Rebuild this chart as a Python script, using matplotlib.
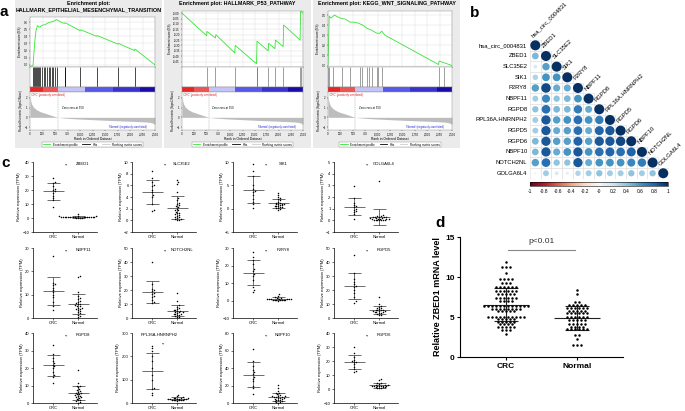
import matplotlib
matplotlib.use("Agg")
import matplotlib.pyplot as plt
import numpy as np
from matplotlib.patches import Rectangle, Circle
from matplotlib.lines import Line2D
from matplotlib.colors import LinearSegmentedColormap, Normalize
import matplotlib.colorbar as mcolorbar

plt.rcParams['font.family'] = ['Liberation Sans', 'DejaVu Sans']

W, H = 685, 411

# ---------------- panel a : GSEA ----------------
emt_rank = [0, 60, 80, 100, 120, 150, 180, 200, 230, 270, 300, 340, 370, 420, 470, 500, 530, 560,
            650, 690, 700, 1000, 1020, 1330, 1345, 1760, 1770, 2090, 2100, 2500]
emt_es = [-0.02, -0.01, 0.18, 0.36, 0.48, 0.55, 0.53, 0.53, 0.55, 0.56, 0.56, 0.58, 0.59, 0.60, 0.61,
          0.62, 0.635, 0.62, 0.59, 0.58, 0.59, 0.48, 0.49, 0.40, 0.41, 0.29, 0.30, 0.20, 0.22, 0.0]
emt_hits = [65, 80, 100, 120, 135, 150, 170, 200, 235, 270, 300, 335, 370, 400, 430, 465, 500, 530,
            690, 700, 1000, 1330, 1760, 2090]

p53_rank = [0, 510, 515, 690, 700, 1090, 1100, 1540, 1550, 1780, 1790, 1920, 1930, 2090, 2100,
            2440, 2450, 2500]
p53_es = [0.0, -0.21, -0.17, -0.23, -0.20, -0.37, -0.30, -0.47, -0.26, -0.35, -0.28, -0.33, -0.25,
          -0.31, -0.11, -0.25, 0.02, 0.0]
p53_hits = [510, 690, 1095, 1545, 1550, 1785, 1925, 2095, 2445, 2450]

wnt_rank = [0, 25, 60, 110, 128, 200, 276, 350, 444, 520, 613, 700, 781, 880, 983, 1040, 1084,
            1151, 2229, 2240, 2330, 2500]
wnt_es = [0.0, 0.49, 0.47, 0.49, 0.50, 0.48, 0.465, 0.46, 0.43, 0.43, 0.42, 0.40, 0.37, 0.35, 0.32,
          0.32, 0.34, 0.30, 0.01, 0.045, 0.03, 0.0]
wnt_hits = [5, 27, 108, 276, 444, 646, 680, 781, 829, 882, 983, 1017, 1084, 2229, 2330]

rank_pos = [0, 10, 30, 60, 100, 150, 220, 300, 400, 550, 700, 900, 1100, 1300, 1500, 1700, 1900,
            2100, 2300, 2400, 2460, 2500]
rank_val = [2.3, 1.8, 1.4, 1.1, 0.9, 0.72, 0.55, 0.42, 0.25, 0.0, -0.08, -0.15, -0.2, -0.25, -0.3,
            -0.34, -0.38, -0.42, -0.47, -0.52, -0.6, -0.75]
band_edges = [0, 250, 550, 1100, 1650, 2200, 2500]
band_vals = [0.95, 0.7, -0.2, -0.55, -0.75, -1.0]

gsea_titles = ["Enrichment plot:\nHALLMARK_EPITHELIAL_MESENCHYMAL_TRANSITION",
               "Enrichment plot: HALLMARK_P53_PATHWAY",
               "Enrichment plot: KEGG_WNT_SIGNALING_PATHWAY"]

# ---------------- panel b : correlation ----------------
corr_names = ['hsa_circ_0004831', 'ZBED1', 'SLC35E2', 'SIK1', 'P2RY8', 'NBPF11', 'RGPD8',
              'RPL36A.HNRNPH2', 'RGPD5', 'RGPD6', 'NBPF10', 'NOTCH2NL', 'GOLGA6L4']
corr_rows = [
    [1],
    [0.45, 1],
    [0.15, 0.55, 1],
    [0.3, 0.6, 0.6, 1],
    [0.55, 0.9, 0.5, 0.5, 1],
    [0.35, 0.65, 0.4, 0.45, 0.6, 1],
    [0.4, 0.75, 0.45, 0.45, 0.7, 0.5, 1],
    [0.35, 0.85, 0.55, 0.6, 0.75, 0.6, 0.7, 1],
    [0.35, 0.85, 0.5, 0.55, 0.75, 0.5, 0.8, 0.85, 1],
    [0.45, 0.85, 0.55, 0.55, 0.8, 0.55, 0.85, 0.85, 0.9, 1],
    [0.45, 0.85, 0.5, 0.6, 0.85, 0.6, 0.75, 0.8, 0.75, 0.8, 1],
    [0.55, 0.75, 0.4, 0.4, 0.85, 0.5, 0.6, 0.6, 0.6, 0.65, 0.7, 1],
    [0.05, 0.35, 0.15, 0.1, 0.3, 0.35, 0.4, 0.35, 0.35, 0.4, 0.35, 0.4, 1],
]

# ---------------- panel c : expression ----------------
genes = ['ZBED1', 'SLC35E2', 'SIK1', 'GOLGA6L4', 'NBPF11', 'NOTCH2NL', 'P2RY8', 'RGPD5',
         'RGPD8', 'RPL36A-HNRNPH2', 'NBPF10', 'RGPD6']
crc_vals = [
    [28.5, 26, 25, 23, 21, 20, 19, 18, 16, 14, 12.5, 7.5],
    [8.5, 7.2, 6.5, 6.0, 5.8, 5.2, 4.8, 4.3, 4.0, 2.8, 1.8, 1.6],
    [9.5, 8.0, 7.0, 5.0, 4.2, 3.8, 3.5, 3.0, 2.0, 1.5, 1.0, 0.2],
    [2.9, 1.9, 1.5, 1.3, 1.2, 1.1, 1.0, 0.9, 0.8, 0.7, 0.5, 0.1],
    [26.5, 15, 14.5, 14, 13, 12, 11, 10, 9, 7, 5, 3.5],
    [40, 24, 21, 20, 19, 18, 17, 16, 15, 13, 11.5, 11],
    [27.7, 25, 23, 21, 18, 17, 15, 14, 12, 8, 6, 5],
    [45, 32, 28, 26, 24, 23, 22, 20, 18, 15, 12, 11],
    [33, 28, 26, 24, 23, 22, 21, 20, 18, 16, 15, 11.5],
    [245, 235, 225, 200, 180, 150, 120, 100, 65, 60, 45, 35],
    [62, 48, 42, 38, 35, 33, 30, 28, 25, 20, 17, 10],
    [30, 25.5, 23, 21, 20, 19.5, 19, 18, 16, 14, 13, 12],
]
normal_vals = [
    [3.0, 1.6, 1.3, 1.1, 1.0, 0.9, 0.9, 0.8, 0.8, 0.7, 0.6, 0.6, 0.5, 0.5, 0.4, 0.4, 0.3, 0.3, 0.2,
     0.2, 1.0, 1.2, 0.7, 0.5],
    [6.9, 6.5, 6.2, 4.8, 3.8, 3.5, 3.0, 2.8, 2.6, 2.3, 2.0, 1.8, 1.7, 1.5, 1.3, 1.2, 1.0, 0.9, 0.8,
     0.6, 0.5, 0.4, 0.3, 0.2, 0.1, 0.0, 2.5],
    [3.4, 3.0, 2.6, 2.3, 2.0, 1.8, 1.5, 1.3, 1.2, 1.0, 0.9, 0.8, 0.7, 0.6, 0.5, 0.4, 0.3, 0.2, 0.1,
     0.0, -0.2, 1.1, 0.6, 0.9],
    [3.4, 0.45, 0.4, 0.35, 0.3, 0.3, 0.25, 0.2, 0.2, 0.15, 0.1, 0.1, 0.05, 0.05, 0.0, 0.0, 0.0, 0.1,
     0.2, 0.3, 0.05, 0.0, 0.15, 0.25],
    [17.8, 17.5, 11, 9.5, 8.5, 8, 7.5, 7, 6.5, 6, 5.5, 5, 4.5, 4, 3.5, 3, 2.5, 2, 1.5, 1, 0.5, 4.2,
     3.8, 5.2, 6.2],
    [18, 12, 9, 8, 7, 6.5, 6, 5.5, 5, 4.5, 4, 3.5, 3, 2.5, 2, 1.5, 1, 0.5, 4, 3.2, 5.2, 2.8],
    [3.5, 2.5, 2.0, 1.5, 1.2, 1.0, 0.8, 0.6, 0.5, 0.4, 0.3, 0.2, 0.1, 0.0, 0.5, 1.0, 0.8, 0.3, 0.6,
     0.9],
    [15, 10, 8.5, 8, 7.5, 7, 6.5, 6, 5.5, 5, 4.8, 4.5, 4, 3.5, 3, 2.5, 2, 6, 5, 4.2, 3.8, 5.5],
    [19, 11.5, 10, 9.5, 9, 8, 7.5, 7, 6.5, 6, 5.5, 5, 4.5, 4, 3.5, 3, 2.5, 2, 1.5, 1, 0.5, 0.2, 4.2,
     5.2, 3.2],
    [35, 28, 25, 22, 20, 19, 18, 17, 16, 15, 14, 13, 12, 11, 10, 20, 18, 16, 22, 15],
    [21, 17, 14, 12, 11, 10, 9, 8, 7.5, 7, 6.5, 6, 5.5, 5, 4.5, 4, 3.5, 3, 2.5, 2, 1.5, 1, 0.5, 8,
     6, 7],
    [7.5, 6.5, 4.5, 4, 3.5, 3, 2.8, 2.5, 2.2, 2, 1.8, 1.5, 1.2, 1, 0.8, 0.5, 2.2, 1.8, 1.5, 2.5, 3],
]
ylims = [(-10, 40), (-2, 10), (-5, 10), (-1, 5), (0, 30), (0, 50), (-10, 30), (0, 50), (0, 40),
         (0, 300), (0, 80), (-10, 40)]
ysteps = [10, 2, 5, 1, 10, 10, 10, 10, 10, 100, 20, 10]
groups = ['CRC', 'Normal']

# ---------------- panel d : ZBED1 qPCR (one entry per dot, read row by row) ----------------
d_crc = [11.9,
         11.2, 11.2, 11.2,
         10.5,
         9.7, 9.7, 9.7, 9.7,
         9.2, 9.2, 9.2,
         8.8, 8.8, 8.8, 8.8, 8.8, 8.8,
         8.3, 8.3, 8.3, 8.3, 8.3, 8.3,
         7.9, 7.9, 7.9, 7.9, 7.9,
         7.35, 7.35, 7.35, 7.35, 7.35, 7.35,
         7.0, 7.0, 7.0, 7.0,
         6.4, 6.4, 6.4, 6.4, 6.4, 6.4, 6.4, 6.4, 6.4, 6.4, 6.4, 6.4,
         6.05, 6.05, 6.05, 6.05, 6.05, 6.05, 6.05, 6.05,
         5.7, 5.7, 5.7, 5.7, 5.7,
         5.05, 5.05, 5.05, 5.05, 5.05, 5.05, 5.05, 5.05, 5.05, 5.05,
         4.7, 4.7, 4.7, 4.7, 4.7,
         4.4, 4.4, 4.4, 4.4, 4.4,
         4.1, 4.1, 4.1, 4.1,
         3.8, 3.8, 3.8, 3.8, 3.8,
         3.4, 3.4, 3.4,
         2.9]
d_nor = [8.4,
         7.9,
         6.9, 6.9,
         6.5, 6.5, 6.5, 6.5, 6.5,
         6.1, 6.1, 6.1, 6.1, 6.1, 6.1,
         5.8, 5.8, 5.8, 5.8, 5.8,
         5.5, 5.5, 5.5, 5.5, 5.5, 5.5,
         5.0, 5.0, 5.0, 5.0, 5.0, 5.0,
         4.6, 4.6, 4.6, 4.6, 4.6,
         4.1, 4.1, 4.1, 4.1, 4.1,
         3.8, 3.8, 3.8, 3.8,
         3.5, 3.5, 3.5, 3.5, 3.5, 3.5,
         2.8, 2.8,
         2.3,
         1.5, 1.5, 1.5]


def box(x0, y0, x1, y1):
    return [x0 / W, 1 - y1 / H, (x1 - x0) / W, (y1 - y0) / H]


def swarm(vals, ypx, xpx, gap):
    # simple beeswarm: offsets in data units
    vals = np.asarray(vals, float)
    offs = np.zeros(len(vals))
    placed = []
    for i in np.argsort(vals):
        y = vals[i] * ypx
        k = 0
        found = None
        while found is None:
            cands = [0.0] if k == 0 else [k * gap * 0.5, -k * gap * 0.5]
            for cx in cands:
                if all((cx - px) ** 2 + (y - py) ** 2 >= gap ** 2 for px, py in placed):
                    found = cx
                    break
            k += 1
        placed.append((found, y))
        offs[i] = found / xpx
    return offs


def rows_layout(vals, step):
    # GraphPad-like rows: equal values spread side by side, centred
    vals = np.asarray(vals, float)
    offs = np.zeros(len(vals))
    for u in np.unique(vals):
        idx = np.where(vals == u)[0]
        offs[idx] = (np.arange(len(idx)) - (len(idx) - 1) / 2) * step
    return offs


fig = plt.figure(figsize=(W / 100, H / 100), dpi=100)

gsea_cmap = LinearSegmentedColormap.from_list(
    'gsea', [(0, '#1a0aa8'), (0.2, '#4a4ae6'), (0.4, '#c4c4f8'), (0.5, '#ffffff'),
             (0.75, '#f07c7c'), (1, '#e61c1c')])
GREEN = '#33e633'


def gsea(gx0, gx1, ax0, ax1, es_top, title, ranks, es, hits, es_lim, es_ticks, fmt, hcol):
    fig.patches.append(Rectangle((gx0 / W, 1 - 148 / H), (gx1 - gx0) / W, 148 / H,
                                 transform=fig.transFigure, fc='#ebebeb', ec='none', zorder=-5))
    fig.text((gx0 + gx1) / 2 / W, 1 - 1.5 / H, title, ha='center', va='top', fontsize=3.85,
             fontweight='bold', linespacing=1.3)
    a1 = fig.add_axes(box(ax0, es_top, ax1, 67))
    a1.plot(ranks, es, color=GREEN, lw=0.6)
    a1.set_xlim(0, 2500)
    a1.set_ylim(es_lim)
    a1.set_yticks(es_ticks)
    a1.set_yticklabels([fmt % t for t in es_ticks])
    a1.set_xticks(np.arange(0, 2501, 250))
    a1.set_xticklabels([])
    a1.grid(color='#dddddd', lw=0.3)
    a1.set_ylabel('Enrichment score (ES)', fontsize=2.2, labelpad=1)
    a2 = fig.add_axes(box(ax0, 67, ax1, 87))
    a2.vlines(hits, 0, 1, color=hcol, lw=0.5)
    a2.set_xlim(0, 2500)
    a2.set_ylim(0, 1)
    a2.set_xticks([])
    a2.set_yticks([])
    a3 = fig.add_axes(box(ax0, 87, ax1, 92))
    a3.pcolormesh(band_edges, [0, 1], [band_vals], cmap=gsea_cmap, vmin=-1, vmax=1)
    a3.set_xlim(0, 2500)
    a3.set_xticks([])
    a3.set_yticks([])
    a4 = fig.add_axes(box(ax0, 92, ax1, 130))
    a4.fill_between(rank_pos, rank_val, 0, color='#bdbdbd', lw=0)
    a4.axvline(550, ls='--', color='#999999', lw=0.3)
    a4.set_xlim(0, 2500)
    a4.set_ylim(-1.3, 2.6)
    a4.set_yticks([-1, 0, 1, 2])
    a4.set_xticks(np.arange(0, 2501, 250))
    a4.set_xticklabels(['{:,}'.format(v) for v in range(0, 2501, 250)])
    a4.set_xlabel('Rank in Ordered Dataset', fontsize=2.4, labelpad=0.8)
    a4.set_ylabel('Ranked list metric (Signal2Noise)', fontsize=2.0, labelpad=1)
    a4.text(20, 2.3, "'CRC' (positively correlated)", color='#e02020', fontsize=2, va='center')
    a4.text(850, 1.0, 'Zero cross at 550', fontsize=2, ha='center', va='center')
    a4.text(1950, -0.95, "'Normal' (negatively correlated)", color='#2020d0', fontsize=2,
            ha='center', va='center')
    for a in (a1, a2, a3, a4):
        a.tick_params(labelsize=2, length=1, width=0.3, pad=0.6)
        for s in a.spines.values():
            s.set_linewidth(0.3)
            s.set_color('#888888')
    handles = [Line2D([], [], color=GREEN, lw=0.6, label='Enrichment profile'),
               Line2D([], [], color='k', lw=0.6, label='Hits'),
               Line2D([], [], color='#cccccc', lw=0.6, label='Ranking metric scores')]
    lg = fig.legend(handles=handles, loc='center', bbox_to_anchor=((ax0 + ax1) / 2 / W, 1 - 144.5 / H),
                    ncol=3, fontsize=2.2, frameon=True, fancybox=False, handlelength=2.5,
                    borderpad=0.3, columnspacing=1.5, framealpha=1)
    lg.get_frame().set_linewidth(0.3)
    lg.get_frame().set_edgecolor('#888888')


gsea(15, 162, 30, 155, 17, gsea_titles[0], emt_rank, emt_es, emt_hits, (-0.03, 0.67),
     np.round(np.arange(0, 0.61, 0.1), 2), '%.1f', 'k')
gsea(164, 311, 182, 303, 11, gsea_titles[1], p53_rank, p53_es, p53_hits, (-0.5, 0.02),
     np.round(np.arange(-0.45, 0.01, 0.05), 2), '%.2f', '#777777')
gsea(313, 460, 328, 452, 11, gsea_titles[2], wnt_rank, wnt_es, wnt_hits, (-0.014, 0.54),
     np.round(np.arange(0, 0.51, 0.1), 2), '%.1f', '#777777')

# ---------------- panel b ----------------
n = len(corr_names)
cmap_b = plt.get_cmap('RdBu')
norm_b = Normalize(-1, 1)
axb = fig.add_axes(box(530, 40, 668.6, 178.6))
axb.set_xlim(-0.5, n - 0.5)
axb.set_ylim(n - 0.5, -0.5)
axb.axis('off')
for i, row in enumerate(corr_rows):
    for j, r in enumerate(row):
        axb.add_patch(Rectangle((j - 0.5, i - 0.5), 1, 1, fc='white', ec='#dcdcdc', lw=0.4))
        axb.add_patch(Circle((j, i), 0.47 * np.sqrt(abs(r)), fc=cmap_b(norm_b(r)), ec='none'))
for i, name in enumerate(corr_names):
    axb.text(-0.75, i, name, ha='right', va='center', fontsize=4.2)
    axb.text(i - 0.15, i - 0.65, name, ha='left', va='bottom', rotation=45,
             rotation_mode='anchor', fontsize=4.2)
cax = fig.add_axes(box(530, 182, 668, 186))
cb = mcolorbar.ColorbarBase(cax, cmap=cmap_b, norm=norm_b, orientation='horizontal')
ticks = np.round(np.arange(-1, 1.01, 0.2), 1)
cb.set_ticks(ticks)
cb.set_ticklabels(['%g' % t for t in ticks])
cax.tick_params(labelsize=3.5, length=0, pad=2)
cb.outline.set_linewidth(0.4)

# ---------------- panel c ----------------
col_x = [33, 132, 233, 334]
row_y = [162, 248, 333]
for k, g in enumerate(genes):
    r, c = divmod(k, 4)
    x0, y0 = col_x[c], row_y[r]
    ax = fig.add_axes(box(x0, y0, x0 + 64, y0 + 70))
    lo, hi = ylims[k]
    ypx = 70 / (hi - lo)
    for gi, vals in enumerate([crc_vals[k], normal_vals[k]]):
        v = np.asarray(vals, float)
        offs = swarm(v, ypx, 25, 1.8)
        ax.scatter(gi + offs, v, s=1.2, color='k', lw=0, zorder=3)
        m, sd = v.mean(), v.std(ddof=1)
        ax.hlines(m, gi - 0.42, gi + 0.42, color='#333333', lw=0.5)
        ax.hlines([m - sd, m + sd], gi - 0.26, gi + 0.26, color='#333333', lw=0.5)
        ax.vlines(gi, m - sd, m + sd, color='#333333', lw=0.5)
    ax.set_xlim(-0.8, 1.75)
    ax.set_ylim(lo, hi)
    ax.set_yticks(np.arange(lo, hi + 0.01, ysteps[k]))
    ax.set_xticks([0, 1])
    ax.set_xticklabels(groups)
    ax.spines['top'].set_visible(False)
    ax.spines['right'].set_visible(False)
    for s in ('left', 'bottom'):
        ax.spines[s].set_linewidth(0.5)
    ax.tick_params(labelsize=3, length=1.5, width=0.4, pad=1)
    ax.set_ylabel('Relative expression (TPM)', fontsize=3, labelpad=1)
    if g == 'RPL36A-HNRNPH2':
        ax.text(0.43, 1.0, g, transform=ax.transAxes, ha='center', va='top', fontsize=3)
        ax.text(0.5, 0.86, '**', transform=ax.transAxes, ha='center', va='top', fontsize=3)
    else:
        ax.text(0.78, 1.0, g, transform=ax.transAxes, ha='center', va='top', fontsize=3)
        ax.text(0.52, 0.97, '**', transform=ax.transAxes, ha='center', va='top', fontsize=3)

# ---------------- panel d ----------------
axd = fig.add_axes(box(460, 237, 623, 357))
for gi, vals in enumerate([d_crc, d_nor]):
    v = np.asarray(vals, float)
    axd.scatter(gi + rows_layout(v, 0.056), v, s=3.2, color='k', lw=0, zorder=3)
    m, sd = v.mean(), v.std(ddof=1)
    axd.hlines(m, gi - 0.32, gi + 0.32, color='#222222', lw=0.8)
    axd.hlines([m - sd, m + sd], gi - 0.17, gi + 0.17, color='#222222', lw=0.8)
    axd.vlines(gi, m - sd, m + sd, color='#222222', lw=0.8)
axd.plot([0.03, 0.97], [13.4, 13.4], color='#888888', lw=0.8)
axd.text(0.5, 14.4, 'p<0.01', ha='center', va='center', fontsize=6, color='#333333')
axd.set_xlim(-0.65, 1.65)
axd.set_ylim(0, 15)
axd.set_yticks([0, 5, 10, 15])
axd.set_xticks([0, 1])
axd.set_xticklabels(groups, fontweight='bold')
for t in axd.get_yticklabels():
    t.set_fontweight('bold')
axd.spines['top'].set_visible(False)
axd.spines['right'].set_visible(False)
axd.tick_params(labelsize=6, length=2.5, width=0.8, pad=1.5)
axd.set_ylabel('Relative ZBED1 mRNA level', fontsize=6.5, fontweight='bold', labelpad=2)

# panel letters
for lab, px, py in [('a', 4, 12), ('b', 475, 13), ('c', 6, 163), ('d', 440, 223)]:
    fig.text(px / W, 1 - py / H, lab, fontsize=11, fontweight='bold', va='center', ha='center')

fig.savefig('out.png', dpi=100)
